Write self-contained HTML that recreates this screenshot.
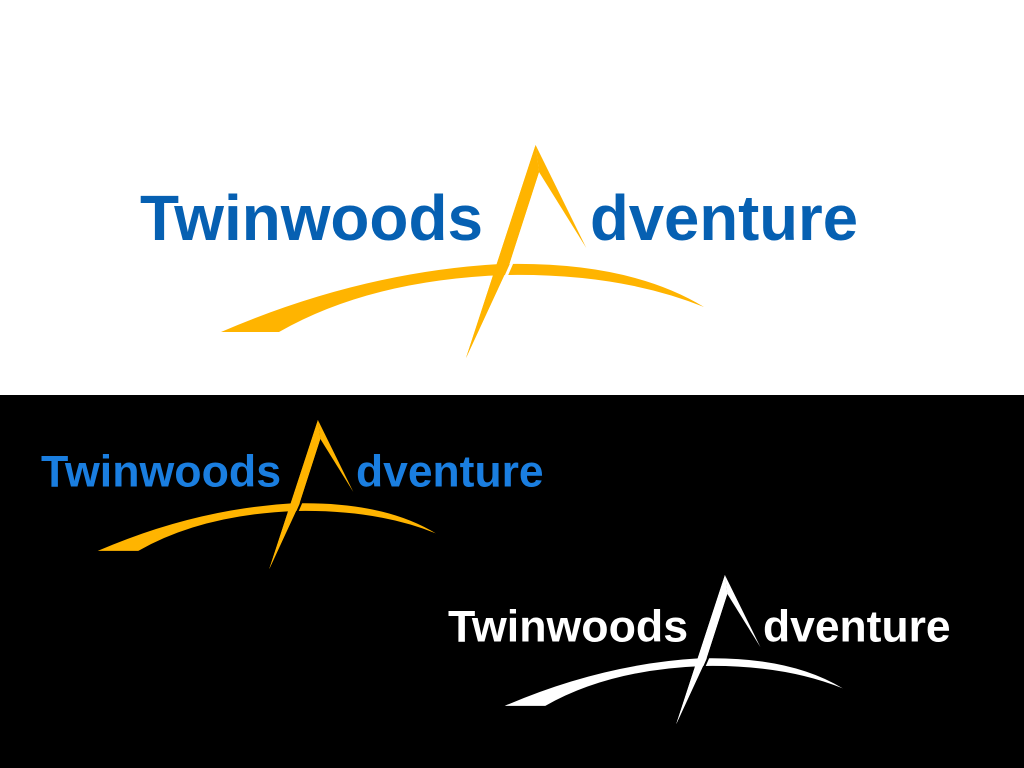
<!DOCTYPE html>
<html><head><style>
html,body{margin:0;padding:0;width:1024px;height:768px;overflow:hidden;background:#fff}
svg{display:block}
</style></head><body>
<svg width="1024" height="768" viewBox="0 0 1024 768" xmlns="http://www.w3.org/2000/svg">
<defs>
<g id="shape">
  <path d="M221,332 Q360,272 500,264 L507,264 Q630,262 704,307 Q620,273 505,275 Q370,280 279,332 Z"/>
  <polygon points="535.6,145 586.3,248 539,172"/>
  <polygon points="535.6,145 466,358 509,265 539,172"/>
</g>
</defs>
<rect x="0" y="0" width="1024" height="395" fill="#fff"/>
<rect x="0" y="395" width="1024" height="373" fill="#000"/>

<!-- main -->
<g fill="#ffb400"><use href="#shape"/></g>
<line x1="514" y1="258" x2="500" y2="290" stroke="#fff" stroke-width="3"/>
<polygon points="535.6,145 466,358 509,265 539,172" fill="#ffb400"/>
<g font-family="Liberation Sans, sans-serif" font-weight="bold" font-size="64" fill="#0660b2">
<text x="140" y="240" textLength="343" lengthAdjust="spacingAndGlyphs">Twinwoods</text>
<text x="590" y="240" textLength="268" lengthAdjust="spacingAndGlyphs">dventure</text>
</g>

<!-- second -->
<g transform="translate(-57,318.5) scale(0.7)">
<g fill="#ffb400"><use href="#shape"/></g>
<line x1="514" y1="258" x2="500" y2="290" stroke="#000" stroke-width="3"/>
<polygon points="535.6,145 466,358 509,265 539,172" fill="#ffb400"/>
<g font-family="Liberation Sans, sans-serif" font-weight="bold" font-size="64" fill="#1a7ee0">
<text x="140" y="240" textLength="343" lengthAdjust="spacingAndGlyphs">Twinwoods</text>
<text x="590" y="240" textLength="268" lengthAdjust="spacingAndGlyphs">dventure</text>
</g>
</g>

<!-- third -->
<g transform="translate(350,473.5) scale(0.7)">
<g fill="#fff"><use href="#shape"/></g>
<line x1="514" y1="258" x2="500" y2="290" stroke="#000" stroke-width="3"/>
<polygon points="535.6,145 466,358 509,265 539,172" fill="#fff"/>
<g font-family="Liberation Sans, sans-serif" font-weight="bold" font-size="64" fill="#fff">
<text x="140" y="240" textLength="343" lengthAdjust="spacingAndGlyphs">Twinwoods</text>
<text x="590" y="240" textLength="268" lengthAdjust="spacingAndGlyphs">dventure</text>
</g>
</g>
</svg>
</body></html>
